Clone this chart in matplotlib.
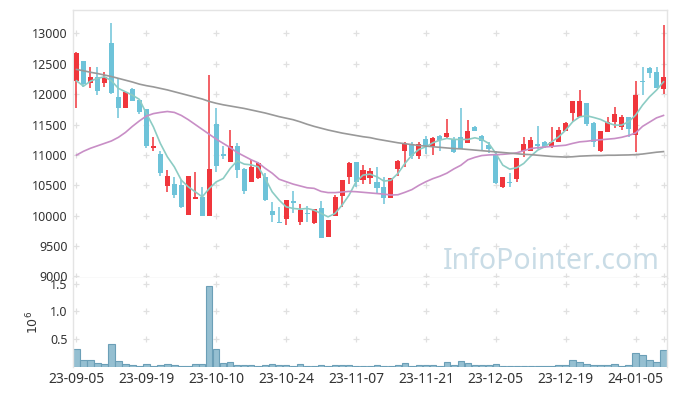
import numpy as np
import matplotlib
matplotlib.use("Agg")
import matplotlib.pyplot as plt

plt.rcParams['font.family'] = ['Noto Sans', 'DejaVu Sans']

# daily candles, 2023-09-05 .. 2024-01-11 (85 trading days)
opens = [12220, 12544, 12177, 12276, 12187, 12845, 11947, 11775, 12088, 11902,
         11749, 11117, 11008, 10492, 10520, 10508, 10014, 10280, 10310, 9998,
         11507, 11010, 10887, 11145, 10766, 10557, 10613, 10640, 10075, 9899,
         9938, 10235, 9899, 10042, 9873, 10120, 9652, 9998, 10327, 10630,
         10877, 10585, 10623, 10557, 10465, 10294, 10766, 11068, 11178, 10980,
         11255, 11145, 11310, 11288, 11255, 11298, 11199, 11458, 11310, 11161,
         10997, 10465, 10557, 10597, 11068, 11068, 11178, 11216, 11124, 11216,
         11397, 11693, 11627, 11848, 11519, 11063, 11380, 11535, 11463, 11617,
         11326, 12220, 12424, 12363, 12083]
highs = [12690, 12550, 12450, 12450, 12368, 13175, 12269, 12040, 12100, 11910,
         11760, 11298, 11063, 10750, 10640, 10585, 10660, 10712, 10465, 12309,
         11766, 11145, 11408, 11200, 10780, 10915, 10880, 10705, 10228, 10136,
         10256, 10409, 10190, 10162, 10110, 10235, 9935, 10338, 10590, 10887,
         10890, 10832, 10783, 10794, 10640, 10620, 10915, 11216, 11210, 11210,
         11304, 11290, 11320, 11589, 11300, 11766, 11573, 11470, 11320, 11216,
         11063, 10640, 10705, 10950, 11298, 11298, 11474, 11230, 11463, 11453,
         11540, 11895, 12067, 11860, 11540, 11400, 11617, 11782, 11650, 11625,
         12215, 12440, 12440, 12440, 13137]
lows = [11766, 12121, 12095, 11984, 12111, 12001, 11601, 11770, 11880, 11672,
        11107, 11063, 10651, 10393, 10284, 10124, 10010, 10275, 9995, 9995,
        10712, 10926, 10880, 10613, 10355, 10550, 10605, 10245, 9899, 9875,
        9840, 10037, 9840, 9899, 9865, 9630, 9645, 9995, 10146, 10520,
        10475, 10515, 10515, 10366, 10190, 10290, 10656, 10804, 10936, 10936,
        11013, 10992, 11063, 11280, 11040, 11090, 11190, 11390, 11078, 11030,
        10530, 10460, 10475, 10553, 10969, 11060, 11100, 11120, 11120, 11210,
        11390, 11545, 11620, 11474, 11134, 11055, 11375, 11441, 11408, 11288,
        11051, 11984, 12269, 12100, 12001]
closes = [12681, 12165, 12276, 12055, 12276, 12012, 11775, 12029, 11890, 11700,
          11150, 11150, 10696, 10651, 10343, 10146, 10651, 10300, 9998, 10766,
          10821, 10990, 11145, 10750, 10404, 10794, 10860, 10256, 10004, 9882,
          10256, 10202, 10091, 10020, 10103, 9636, 9927, 10310, 10585, 10860,
          10557, 10750, 10733, 10458, 10294, 10613, 10898, 11178, 10980, 11178,
          11145, 11282, 11243, 11354, 11051, 11095, 11392, 11397, 11227, 11096,
          10541, 10635, 10541, 10942, 11173, 11244, 11145, 11124, 11216, 11408,
          11529, 11886, 11886, 11507, 11206, 11397, 11535, 11672, 11617, 11425,
          11984, 12203, 12351, 12105, 12276]

ma5 = [12220, 12132, 12215, 12260, 12286, 12220, 12095, 12039, 11984, 11914,
       11683, 11463, 11189, 10969, 10804, 10585, 10475, 10393, 10310, 10449,
       10557, 10613, 10778, 10903, 10849, 10837, 10804, 10613, 10393, 10256,
       10146, 10120, 10108, 10120, 10091, 10037, 9981, 10037, 10174, 10338,
       10557, 10668, 10684, 10640, 10569, 10585, 10696, 10860, 10997, 11091,
       11134, 11200, 11244, 11272, 11255, 11255, 11255, 11282, 11255, 11189,
       11025, 10832, 10766, 10790, 10860, 10980, 11079, 11134, 11216, 11298,
       11408, 11545, 11627, 11645, 11617, 11584, 11529, 11491, 11491, 11545,
       11655, 11820, 11957, 12067, 12203]
ma20 = [10997, 11060, 11110, 11150, 11190, 11230, 11290, 11370, 11470, 11560,
        11640, 11680, 11700, 11715, 11700, 11650, 11580, 11500, 11420, 11340,
        11260, 11190, 11120, 11040, 10980, 10920, 10870, 10780, 10700, 10600,
        10560, 10520, 10490, 10460, 10450, 10400, 10380, 10380, 10390, 10400,
        10395, 10385, 10375, 10365, 10355, 10340, 10345, 10385, 10430, 10500,
        10560, 10610, 10650, 10700, 10770, 10830, 10920, 10960, 10990, 11000,
        11005, 11010, 11020, 11035, 11070, 11105, 11120, 11130, 11140, 11150,
        11160, 11190, 11215, 11225, 11240, 11250, 11260, 11270, 11290, 11320,
        11360, 11470, 11540, 11610, 11650]
ma60 = [12407, 12385, 12360, 12340, 12315, 12290, 12260, 12230, 12200, 12165,
        12140, 12120, 12095, 12070, 12040, 12010, 11980, 11950, 11920, 11880,
        11850, 11825, 11805, 11785, 11765, 11740, 11715, 11690, 11660, 11630,
        11605, 11580, 11545, 11505, 11470, 11440, 11410, 11385, 11360, 11340,
        11320, 11300, 11285, 11260, 11240, 11220, 11200, 11185, 11170, 11155,
        11145, 11135, 11125, 11115, 11105, 11100, 11090, 11080, 11070, 11060,
        11050, 11040, 11030, 11020, 11010, 11005, 10995, 10985, 10975, 10970,
        10965, 10970, 10980, 10985, 10990, 10990, 10995, 10995, 10998, 11000,
        11005, 11015, 11030, 11045, 11055]

# volume in millions
volume = [0.327, 0.131, 0.131, 0.077, 0.054, 0.417, 0.113, 0.054, 0.036, 0.018,
          0.054, 0.018, 0.036, 0.054, 0.036, 0.018, 0.018, 0.054, 0.054, 1.452,
          0.327, 0.071, 0.095, 0.036, 0.036, 0.036, 0.018, 0.036, 0.054, 0.036,
          0.036, 0.018, 0.054, 0.018, 0.018, 0.036, 0.018, 0.036, 0.036, 0.036,
          0.018, 0.018, 0.018, 0.036, 0.018, 0.018, 0.036, 0.071, 0.018, 0.036,
          0.036, 0.036, 0.018, 0.089, 0.036, 0.113, 0.071, 0.036, 0.036, 0.036,
          0.054, 0.018, 0.018, 0.018, 0.018, 0.018, 0.018, 0.018, 0.018, 0.036,
          0.036, 0.131, 0.089, 0.054, 0.036, 0.036, 0.036, 0.054, 0.018, 0.036,
          0.256, 0.214, 0.131, 0.095, 0.310]

tick_pos = [0, 10, 20, 30, 40, 50, 60, 70, 80]
tick_labels = ['23-09-05', '23-09-19', '23-10-10', '23-10-24', '23-11-07',
               '23-11-21', '23-12-05', '23-12-19', '24-01-05']
price_ticks = [9000, 9500, 10000, 10500, 11000, 11500, 12000, 12500, 13000]
vol_ticks = [0.5, 1.0, 1.5]

UP = '#f0363c'
DOWN = '#6ec3d9'
FRAME = '#e4e4e4'
TXT = '#333333'

n = len(opens)
x = np.arange(n)
o = np.array(opens, float)
c = np.array(closes, float)
up = c >= o

fig = plt.figure(figsize=(6.77, 3.96), dpi=100)
ax = fig.add_axes([73 / 677, 118 / 396, 594 / 677, 268 / 396])
axv = fig.add_axes([73 / 677, 28.7 / 396, 594 / 677, 89.3 / 396], sharex=ax)

# grid crosses
for a, yt in ((ax, price_ticks), (axv, vol_ticks)):
    gx, gy = np.meshgrid(tick_pos + [n - 1], yt)
    a.scatter(gx.ravel(), gy.ravel(), marker='+', s=20, color='#e0e0e0',
              linewidths=0.9, zorder=0, clip_on=False)

# candles
colors = np.where(up, UP, DOWN)
ax.vlines(x, lows, highs, colors=colors, linewidth=1.1, zorder=2)
body_lo = np.minimum(o, c)
body_h = np.maximum(np.abs(c - o), 18)
ax.bar(x, body_h, bottom=body_lo, width=0.72, color=colors, linewidth=0, zorder=3)

ax.plot(x, ma5, color='#8cccc4', linewidth=1.2, zorder=4)
ax.plot(x, ma20, color='#c88ec6', linewidth=1.2, zorder=4)
ax.plot(x, ma60, color='#999999', linewidth=1.2, zorder=4)

ax.text(0.988, 0.035, 'InfoPointer.com', transform=ax.transAxes, ha='right',
        va='baseline', fontsize=20.5, color='#c9dce6', zorder=1)

ax.set_xlim(-0.5, n - 0.5)
ax.set_ylim(8975, 13385)
ax.set_yticks(price_ticks)
ax.set_yticklabels([str(v) for v in price_ticks])
ax.tick_params(axis='y', length=0, labelsize=9, colors=TXT, pad=4)
ax.tick_params(axis='x', length=0, labelbottom=False)

# volume
axv.bar(x, volume, width=0.92, color='#95bfd1', edgecolor='#6b9fb7',
        linewidth=0.8, zorder=2)
axv.set_ylim(0, 1.6)
axv.set_yticks(vol_ticks)
axv.set_yticklabels(['0.5', '1.0', '1.5'])
axv.set_xticks(tick_pos)
axv.set_xticklabels(tick_labels)
axv.tick_params(axis='both', length=0, labelsize=10, colors=TXT)
axv.tick_params(axis='y', labelsize=9, pad=4)
axv.set_ylabel(r'$10^6$', fontsize=9, color=TXT, labelpad=6)

for a in (ax, axv):
    for s in a.spines.values():
        s.set_color(FRAME)
        s.set_linewidth(1)
axv.spines['bottom'].set_visible(False)
axv.spines['top'].set_visible(False)

fig.savefig('out.png', dpi=100)
